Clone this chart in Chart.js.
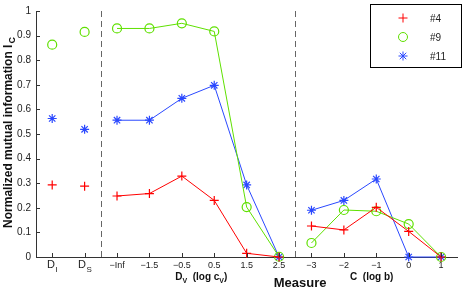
<!DOCTYPE html>
<html>
<head>
<meta charset="utf-8">
<script src="https://cdn.jsdelivr.net/npm/chart.js@4/dist/chart.umd.min.js"></script>
<style>
  html, body { margin: 0; padding: 0; background: #fff; }
  #wrap { width: 463px; height: 288px; }
</style>
</head>
<body>
<div id="wrap"><canvas id="c" width="463" height="288"></canvas></div>
<script>
'use strict';

/* DATA */
const cats = ['D_I', 'D_S', '\u2212Inf', '\u22121.5', '\u22120.5', '0.5', '1.5', '2.5', '\u22123', '\u22122', '\u22121', '0', '1'];
const groups = [0, 1, 2, 2, 2, 2, 2, 2, 3, 3, 3, 3, 3];   // points are joined only inside a group
const s4  = [0.293, 0.288, 0.248, 0.258, 0.329, 0.230, 0.015, 0.000, 0.126, 0.110, 0.202, 0.104, 0.000];
const s9  = [0.863, 0.915, 0.929, 0.929, 0.950, 0.917, 0.203, 0.001, 0.057, 0.191, 0.186, 0.134, 0.000];
const s11 = [0.563, 0.519, 0.556, 0.556, 0.645, 0.698, 0.293, 0.000, 0.190, 0.230, 0.317, 0.000, 0.000];
const yTicks = [0, 0.1, 0.2, 0.3, 0.4, 0.5, 0.6, 0.7, 0.8, 0.9, 1];
const separators = [1.5, 7.5];

const FONT = "'Liberation Sans', Arial, Helvetica, sans-serif";

function series(vals) {
  const out = [];
  vals.forEach((v, i) => {
    out.push({ x: i, y: v });
    if (i < vals.length - 1 && groups[i + 1] !== groups[i]) out.push({ x: i + 0.5, y: null });
  });
  return out;
}

const RED = '#ff0000', GREEN = '#5fe000', BLUE = '#2a48ff';

/* custom drawing: inward ticks, separators, subscript labels, titles, legend */
const decor = {
  id: 'decor',
  beforeDatasetsDraw(chart) {
    const { ctx, chartArea: a, scales: { x } } = chart;
    ctx.save();
    ctx.strokeStyle = '#666';
    ctx.lineWidth = 1;
    ctx.setLineDash([6, 4]);
    separators.forEach(v => {
      const px = Math.round(x.getPixelForValue(v)) + 0.5;
      ctx.beginPath(); ctx.moveTo(px, a.bottom); ctx.lineTo(px, a.top); ctx.stroke();
    });
    ctx.restore();
  },
  afterDraw(chart) {
    const { ctx, chartArea: a, scales: { x, y } } = chart;
    ctx.save();
    ctx.strokeStyle = '#333';
    ctx.lineWidth = 1;
    // inward ticks
    cats.forEach((c, i) => {
      const px = Math.round(x.getPixelForValue(i)) + 0.5;
      ctx.beginPath(); ctx.moveTo(px, a.bottom); ctx.lineTo(px, a.bottom - 4); ctx.stroke();
    });
    yTicks.forEach(v => {
      const py = Math.round(y.getPixelForValue(v)) + 0.5;
      ctx.beginPath(); ctx.moveTo(a.left, py); ctx.lineTo(a.left + 4, py); ctx.stroke();
    });

    // D_I / D_S tick labels
    ctx.fillStyle = '#222';
    ctx.textBaseline = 'alphabetic';
    [0, 1].forEach(i => {
      const px = x.getPixelForValue(i);
      ctx.font = '11px ' + FONT;
      const wD = ctx.measureText('D').width;
      ctx.font = '8px ' + FONT;
      const sub = cats[i].split('_')[1];
      const wS = ctx.measureText(sub).width;
      const x0 = px - (wD + wS) / 2;
      ctx.font = '11px ' + FONT;
      ctx.textAlign = 'left';
      ctx.fillText('D', x0, 268);
      ctx.font = '8px ' + FONT;
      ctx.fillText(sub, x0 + wD + 0.5, 272);
    });

    // y axis title (rotated) with subscript C
    ctx.save();
    ctx.translate(12, 133);
    ctx.rotate(-Math.PI / 2);
    ctx.font = 'bold 12px ' + FONT;
    const main = 'Normalized mutual information I';
    const wm = ctx.measureText(main).width;
    ctx.font = 'bold 9px ' + FONT;
    const wc = ctx.measureText('C').width;
    const sx = -(wm + wc) / 2;
    ctx.textAlign = 'left';
    ctx.font = 'bold 12px ' + FONT;
    ctx.fillStyle = '#111';
    ctx.fillText(main, sx, 0);
    ctx.font = 'bold 9px ' + FONT;
    ctx.fillText('C', sx + wm + 1, 3);
    ctx.restore();

    // x axis titles
    function subTitle(parts, cx, base) {
      let w = 0;
      parts.forEach(p => { ctx.font = 'bold ' + p[1] + 'px ' + FONT; w += ctx.measureText(p[0]).width; });
      let cur = cx - w / 2;
      ctx.textAlign = 'left';
      parts.forEach(p => {
        ctx.font = 'bold ' + p[1] + 'px ' + FONT;
        ctx.fillText(p[0], cur, base + (p[2] || 0));
        cur += ctx.measureText(p[0]).width;
      });
    }
    ctx.fillStyle = '#111';
    subTitle([['D', 10], ['V', 7, 3], ['  (log c', 10], ['V', 7, 3], [')', 10]], x.getPixelForValue(4.6), 280);
    subTitle([['C  (log b)', 10]], x.getPixelForValue(9.86), 280);
    ctx.font = 'bold 13px ' + FONT;
    ctx.textAlign = 'center';
    ctx.fillText('Measure', x.getPixelForValue(7.65), 287);

    // legend
    const lx = 370.5, ly = 4.5, lw = 91, lh = 63;
    ctx.fillStyle = '#fff';
    ctx.fillRect(lx, ly, lw, lh);
    ctx.strokeStyle = '#000';
    ctx.lineWidth = 1;
    ctx.strokeRect(lx, ly, lw, lh);
    chart.data.datasets.forEach((ds, k) => {
      const my = 18 + k * 19;
      const mx = 403;
      ctx.strokeStyle = ds.borderColor;
      ctx.lineWidth = 1;
      ctx.beginPath();
      if (ds.pointStyle === 'circle') {
        ctx.arc(mx, my, 4.5, 0, Math.PI * 2);
      } else {
        const r = 4.5;
        ctx.moveTo(mx - r, my); ctx.lineTo(mx + r, my);
        ctx.moveTo(mx, my - r); ctx.lineTo(mx, my + r);
        if (ds.pointStyle === 'star') {
          const d = r * 0.72;
          ctx.moveTo(mx - d, my - d); ctx.lineTo(mx + d, my + d);
          ctx.moveTo(mx - d, my + d); ctx.lineTo(mx + d, my - d);
        }
      }
      ctx.stroke();
      ctx.fillStyle = '#222';
      ctx.font = '10px ' + FONT;
      ctx.textAlign = 'left';
      ctx.textBaseline = 'middle';
      ctx.fillText(ds.label, 430, my + 1);
    });
    ctx.restore();
  }
};

function ds(label, vals, color, style, radius) {
  return {
    label,
    data: series(vals),
    borderColor: color,
    backgroundColor: 'rgba(0,0,0,0)',
    borderWidth: 1,
    pointStyle: style,
    pointRadius: radius,
    pointBorderWidth: 1.2,
    pointBorderColor: color,
    pointBackgroundColor: 'rgba(0,0,0,0)',
    spanGaps: false,
    tension: 0
  };
}

new Chart(document.getElementById('c'), {
  type: 'line',
  data: {
    datasets: [
      ds('#4', s4, RED, 'cross', 4.5),
      ds('#9', s9, GREEN, 'circle', 4.5),
      ds('#11', s11, BLUE, 'star', 4.5)
    ]
  },
  options: {
    responsive: false,
    animation: false,
    clip: false,
    layout: { padding: { top: 5, right: 1, left: 0, bottom: 0 } },
    plugins: { legend: { display: false }, tooltip: { enabled: false } },
    scales: {
      x: {
        type: 'linear',
        min: -0.5,
        max: 12.5,
        afterBuildTicks: s => { s.ticks = cats.map((c, i) => ({ value: i })); },
        afterFit: s => { s.height = 31; },
        grid: { display: false, drawTicks: false, tickLength: 0 },
        border: { display: true, color: '#333', width: 1 },
        ticks: {
          autoSkip: false,
          maxRotation: 0,
          padding: 3,
          color: '#222',
          font: { family: FONT, size: 9 },
          callback: v => (Number.isInteger(v) && cats[v] && cats[v].indexOf('_') < 0) ? cats[v] : ''
        }
      },
      y: {
        min: 0,
        max: 1,
        afterBuildTicks: s => { s.ticks = yTicks.map(v => ({ value: v })); },
        afterFit: s => { s.width = 36; },
        grid: { display: false, drawTicks: false, tickLength: 0 },
        border: { display: true, color: '#333', width: 1 },
        ticks: {
          padding: 5,
          color: '#222',
          font: { family: FONT, size: 10 },
          callback: v => (v === 0 || v === 1) ? String(v) : v.toFixed(1)
        }
      }
    }
  },
  plugins: [decor]
});
</script>
</body>
</html>
